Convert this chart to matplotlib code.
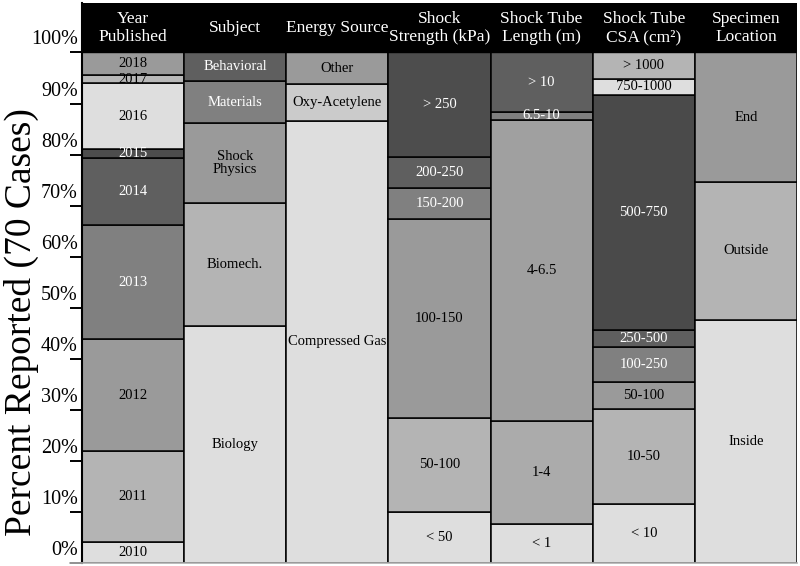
import matplotlib
matplotlib.use("Agg")
import matplotlib.pyplot as plt
from matplotlib.lines import Line2D
from matplotlib.transforms import Bbox, TransformedBbox

plt.rcParams["font.family"] = ["Liberation Serif", "DejaVu Serif"]

# column headers
headers = ["Year\nPublished", "Subject", "Energy Source", "Shock\nStrength (kPa)",
           "Shock Tube\nLength (m)", "Shock Tube\nCSA (cm²)", "Specimen\nLocation"]

# segment values (percent of cases), listed bottom to top
year_labels = ["2010", "2011", "2012", "2013", "2014", "2015", "2016", "2017", "2018"]
year_values = [4.0, 17.8, 22.1, 22.2, 13.2, 1.8, 12.9, 1.6, 4.4]

subject_labels = ["Biology", "Biomech.", "Shock\nPhysics", "Materials", "Behavioral"]
subject_values = [46.3, 24.2, 15.6, 8.3, 5.6]

energy_labels = ["Compressed Gas", "Oxy-Acetylene", "Other"]
energy_values = [86.6, 7.3, 6.1]

strength_labels = ["< 50", "50-100", "100-150", "150-200", "200-250", "> 250"]
strength_values = [9.9, 18.5, 38.9, 6.1, 6.1, 20.5]

length_labels = ["< 1", "1-4", "4-6.5", "6.5-10", "> 10"]
length_values = [7.6, 20.2, 59.0, 1.6, 11.6]

csa_labels = ["< 10", "10-50", "50-100", "100-250", "250-500", "500-750", "750-1000", "> 1000"]
csa_values = [11.5, 18.7, 5.2, 6.8, 3.4, 46.1, 3.1, 5.2]

location_labels = ["Inside", "Outside", "End"]
location_values = [47.6, 27.0, 25.4]

# grey shades per segment
year_colors = ["#dedede", "#b4b4b4", "#9a9a9a", "#808080", "#5f5f5f", "#4d4d4d", "#dedede", "#b8b8b8", "#9a9a9a"]
subject_colors = ["#dedede", "#b4b4b4", "#9a9a9a", "#808080", "#5f5f5f"]
energy_colors = ["#dedede", "#cbcbcb", "#9a9a9a"]
strength_colors = ["#dedede", "#b4b4b4", "#9a9a9a", "#808080", "#5f5f5f", "#4d4d4d"]
length_colors = ["#dedede", "#ababab", "#a0a0a0", "#808080", "#5f5f5f"]
csa_colors = ["#dedede", "#b4b4b4", "#9a9a9a", "#808080", "#5f5f5f", "#4a4a4a", "#dedede", "#b4b4b4"]
location_colors = ["#dedede", "#b4b4b4", "#9a9a9a"]

columns = [
    (year_labels, year_values, year_colors),
    (subject_labels, subject_values, subject_colors),
    (energy_labels, energy_values, energy_colors),
    (strength_labels, strength_values, strength_colors),
    (length_labels, length_values, length_colors),
    (csa_labels, csa_values, csa_colors),
    (location_labels, location_values, location_colors),
]

yticks = list(range(0, 101, 10))

fig = plt.figure(figsize=(8, 5.66), dpi=100)
ax = fig.add_axes([82 / 800, 3.3 / 566, 715 / 800, 559.7 / 566])
ax.set_xlim(-0.5, len(columns) - 0.5)
ax.set_ylim(0, 109.7)

for i, (labels, values, colors) in enumerate(columns):
    bottom = 0.0
    for lab, val, col in zip(labels, values, colors):
        ax.bar(i, val, bottom=bottom, width=1.0, color=col, edgecolor="black", linewidth=1.1, zorder=2)
        grey = int(col[1:3], 16)
        tc = "white" if grey < 0x90 else "black"
        t = ax.text(i, bottom + val / 2, lab, ha="center", va="center", fontsize=10.5,
                    color=tc, zorder=3, linespacing=1.0)
        # lower segments cover the bottom of labels that overflow small boxes
        t.set_clip_box(TransformedBbox(Bbox([[i - 0.5, bottom], [i + 0.5, 109.7]]), ax.transData))
        t.set_clip_on(True)
        bottom += val

# black header band
ax.axhspan(100, 109.7, color="black", zorder=4)
for i, h in enumerate(headers):
    ax.text(i, 104.85, h, ha="center", va="center", color="white", fontsize=12.5,
            linespacing=1.2, zorder=5)

# axes styling
for side in ["top", "right", "bottom"]:
    ax.spines[side].set_visible(False)
ax.spines["left"].set_linewidth(1.5)
ax.spines["left"].set_zorder(6)
ax.set_xticks([])
ax.set_yticks(yticks)
ax.set_yticklabels([])
ax.tick_params(axis="y", length=8.6, width=1.4, direction="out")
for v in yticks:
    ax.annotate(f"{v}%", xy=(0, v), xycoords=("axes fraction", "data"),
                xytext=(-3, 9), textcoords="offset points", ha="right", va="center",
                fontsize=14.5)

ax.set_ylabel("Percent Reported (70 Cases)", fontsize=27)
ax.yaxis.set_label_coords(-0.06, 0.43)

fig.add_artist(Line2D([70 / 800, 797 / 800], [3.3 / 566, 3.3 / 566], color="#b0b0b0", linewidth=1.2))

fig.savefig("out.png", dpi=100)
